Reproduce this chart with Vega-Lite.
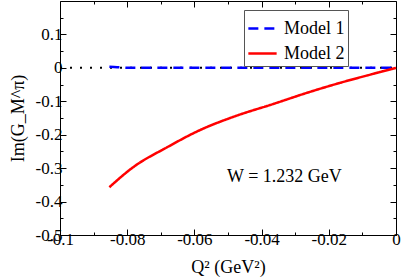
{
  "$schema": "https://vega.github.io/schema/vega-lite/v6.json",
  "width": 336,
  "height": 234,
  "autosize": "none",
  "padding": {"left": 60, "top": 1, "right": 6, "bottom": 45},
  "background": "white",
  "config": {
    "view": {"stroke": null},
    "font": "Liberation Serif"
  },
  "datasets": {
    "zero": [
      {"q2": -0.1, "v": 0},
      {"q2": 0, "v": 0}
    ],
    "models": [
      {"model": "Model 1", "q2": -0.0853, "v": 0.003},
      {"model": "Model 1", "q2": -0.083, "v": 0.002},
      {"model": "Model 1", "q2": -0.08, "v": 0.0},
      {"model": "Model 1", "q2": -0.04, "v": 0.0},
      {"model": "Model 1", "q2": 0, "v": 0.0},
      {"model": "Model 2", "q2": -0.0853, "v": -0.357},
      {"model": "Model 2", "q2": -0.0782, "v": -0.297},
      {"model": "Model 2", "q2": -0.0682, "v": -0.238},
      {"model": "Model 2", "q2": -0.0583, "v": -0.186},
      {"model": "Model 2", "q2": -0.0474, "v": -0.143},
      {"model": "Model 2", "q2": -0.0365, "v": -0.108},
      {"model": "Model 2", "q2": -0.0266, "v": -0.075},
      {"model": "Model 2", "q2": -0.0167, "v": -0.045},
      {"model": "Model 2", "q2": -0.0068, "v": -0.018},
      {"model": "Model 2", "q2": 0, "v": 0}
    ],
    "note": [
      {"q2": -0.0503, "v": -0.326, "label": "W = 1.232 GeV"}
    ]
  },
  "resolve": {"axis": {"x": "independent", "y": "independent"}},
  "layer": [
    {
      "data": {"name": "zero"},
      "mark": {"type": "line", "color": "#000000", "strokeWidth": 2, "strokeDash": [2, 8]},
      "encoding": {
        "x": {
          "field": "q2", "type": "quantitative",
          "scale": {"domain": [-0.1, 0], "nice": false, "zero": false},
          "axis": {
            "orient": "bottom",
            "title": "Q² (GeV²)",
            "titleFont": "Liberation Serif",
            "titleFontSize": 18,
            "titleFontWeight": "normal",
            "titleColor": "#000000",
            "titlePadding": 8,
            "domainColor": "#000000",
            "tickColor": "#000000",
            "tickWidth": 1,
            "grid": false,
            "values": [-0.1, -0.09, -0.08, -0.07, -0.06, -0.05, -0.04, -0.03, -0.02, -0.01, 0],
            "labelExpr": "abs(datum.value*50 - round(datum.value*50)) < 0.01 ? toString(round(datum.value*100)/100) : ''",
            "labelFont": "Liberation Serif",
            "labelFontSize": 17,
            "labelColor": "#000000",
            "tickSize": {"condition": {"test": "abs(datum.value*50 - round(datum.value*50)) < 0.01", "value": -6}, "value": -3},
            "labelPadding": 2,
            "labelFlush": false,
            "labelOverlap": false
          }
        },
        "y": {
          "field": "v", "type": "quantitative",
          "scale": {"domain": [-0.5, 0.2], "nice": false, "zero": false},
          "axis": {
            "orient": "left",
            "title": "Im(G_M^π)",
            "titleFont": "Liberation Serif",
            "titleFontSize": 18,
            "titleFontWeight": "normal",
            "titleColor": "#000000",
            "titlePadding": 8,
            "domainColor": "#000000",
            "tickColor": "#000000",
            "tickWidth": 1,
            "grid": false,
            "values": [-0.5, -0.45, -0.4, -0.35, -0.3, -0.25, -0.2, -0.15, -0.1, -0.05, 0, 0.05, 0.1, 0.15],
            "labelExpr": "abs(datum.value*10 - round(datum.value*10)) < 0.01 ? toString(round(datum.value*10)/10) : ''",
            "labelFont": "Liberation Serif",
            "labelFontSize": 17,
            "labelColor": "#000000",
            "tickSize": {"condition": {"test": "abs(datum.value*10 - round(datum.value*10)) < 0.01", "value": -6}, "value": -3},
            "labelPadding": 4,
            "labelFlush": false,
            "labelOverlap": false
          }
        }
      }
    },
    {
      "data": {"name": "models"},
      "mark": {"type": "line", "strokeWidth": 2.5, "interpolate": "monotone"},
      "encoding": {
        "x": {
          "field": "q2", "type": "quantitative",
          "axis": {
            "orient": "top", "title": null, "labels": false, "grid": false,
            "domainColor": "#000000", "tickColor": "#000000", "tickWidth": 1,
            "values": [-0.1, -0.09, -0.08, -0.07, -0.06, -0.05, -0.04, -0.03, -0.02, -0.01, 0],
            "tickSize": {"condition": {"test": "abs(datum.value*50 - round(datum.value*50)) < 0.01", "value": -6}, "value": -3}
          }
        },
        "y": {
          "field": "v", "type": "quantitative",
          "axis": {
            "orient": "right", "title": null, "labels": false, "grid": false,
            "domainColor": "#000000", "tickColor": "#000000", "tickWidth": 1,
            "values": [-0.5, -0.45, -0.4, -0.35, -0.3, -0.25, -0.2, -0.15, -0.1, -0.05, 0, 0.05, 0.1, 0.15],
            "tickSize": {"condition": {"test": "abs(datum.value*10 - round(datum.value*10)) < 0.01", "value": -6}, "value": -3}
          }
        },
        "color": {
          "field": "model", "type": "nominal",
          "scale": {"domain": ["Model 1", "Model 2"], "range": ["#0000ff", "#ff0000"]},
          "legend": {
            "title": null,
            "orient": "none",
            "legendX": 184,
            "legendY": 9,
            "strokeColor": "#555555",
            "fillColor": "#ffffff",
            "padding": 3,
            "symbolType": "stroke",
            "symbolSize": 800,
            "symbolStrokeWidth": 2.5,
            "labelFont": "Liberation Serif",
            "labelFontSize": 18,
            "labelColor": "#000000",
            "labelOffset": 6,
            "rowPadding": 0,
            "labelLimit": 200
          }
        },
        "strokeDash": {
          "field": "model", "type": "nominal",
          "scale": {"domain": ["Model 1", "Model 2"], "range": [[10, 6], [1, 0]]},
          "legend": null
        }
      }
    },
    {
      "data": {"name": "note"},
      "mark": {"type": "text", "align": "left", "baseline": "middle", "fontSize": 18, "font": "Liberation Serif", "color": "#000000"},
      "encoding": {
        "x": {"field": "q2", "type": "quantitative", "axis": null},
        "y": {"field": "v", "type": "quantitative", "axis": null},
        "text": {"field": "label"}
      }
    }
  ]
}
